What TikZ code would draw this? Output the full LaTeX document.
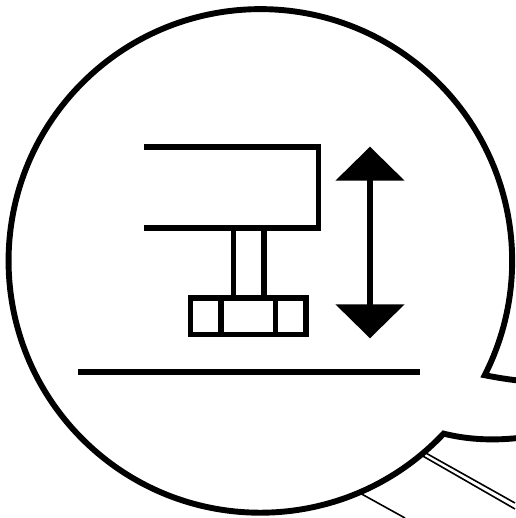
\documentclass[tikz,border=0pt]{standalone}
\usepackage{xcolor}
\usetikzlibrary{arrows.meta}

\begin{document}
\begin{tikzpicture}[
  x=1pt,y=-1pt,
  thickline/.style={draw=black,line width=5.7pt},
  thinline/.style={draw=black,line width=1.6pt},
  bubble/.style={draw=black,fill=white,line width=5.9pt,miter limit=10},
  arr/.style={{Triangle[length=34pt,width=68pt]}-{Triangle[length=34pt,width=68pt]},line width=5.7pt}
]
\useasboundingbox (0,0) rectangle (515,518);
\fill[white] (0,0) rectangle (515,518);
% lines behind the bubble
\draw[thinline] (424,452) -- (515,503);
\draw[thinline] (421,455) -- (515,509);
\draw[thinline] (358,492) -- (405,518);
% speech bubble
\filldraw[bubble] (518,438) .. controls (490,441) and (465,439) .. (443.6,433.6)
  arc[start angle=43.3,end angle=387,radius=251.8]
  .. controls (494,377) and (505,379) .. (518,380.5);
% beam and stem
\draw[thickline] (144,146.7) -- (318.5,146.7) -- (318.5,228.3) -- (144,228.3);
\draw[thickline] (233.5,228.3) -- (233.5,297.7);
\draw[thickline] (263.7,228.3) -- (263.7,297.7);
% foot
\draw[thickline] (190.5,297.7) rectangle (306.3,334.5);
\draw[thickline] (221.3,297.7) -- (221.3,334.5);
\draw[thickline] (275.5,297.7) -- (275.5,334.5);
% ground
\draw[thickline] (78,372) -- (420,372);
% travel arrow
\coordinate (uptip) at (370,146.7);
\coordinate (lowtip) at (370,338.3);
\draw[arr] (uptip) -- (lowtip);
\end{tikzpicture}
\end{document}
